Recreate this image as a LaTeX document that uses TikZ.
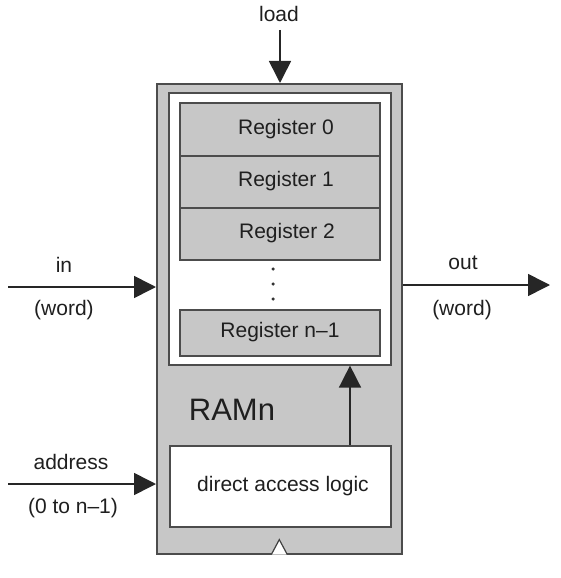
\documentclass[tikz,border=0pt]{standalone}
\usepackage{fontspec}
\setmainfont{Liberation Sans}
\usetikzlibrary{arrows.meta}
\begin{document}
\begin{tikzpicture}[x=1pt,y=-1pt,
  box/.style={draw=black!70, line width=1.6pt},
  lbl/.style={font=\fontsize{21}{25}\selectfont, inner sep=0pt, text=black!88},
  arr/.style={draw=black!85, line width=1.6pt, -{Triangle[length=22pt,width=22pt]}},
  reg/.style={box, fill=black!22, minimum width=200pt, inner sep=0pt, anchor=north west},
  dotm/.style={circle, fill=black!80, inner sep=0pt, minimum size=3.5pt}
]
\useasboundingbox (0,0) rectangle (560,578);
% outer RAM box
\node[box, fill=black!22, minimum width=245pt, minimum height=470pt, anchor=north west] (ram) at (156,83) {};
% memory area
\node[box, fill=white, minimum width=222pt, minimum height=272pt, anchor=north west] (mem) at (168,92) {};
% registers
\node[reg, minimum height=53pt] (r0) at (179,102) {};
\node[reg, minimum height=52pt] (r1) at (179,155) {};
\node[reg, minimum height=52pt] (r2) at (179,207) {};
\node[reg, minimum height=46pt] (rn) at (179,309) {};
\node[lbl] (r0t) at (286,129) {Register 0};
\node[lbl] (r1t) at (286,181) {Register 1};
\node[lbl] (r2t) at (287,233) {Register 2};
\node[lbl] (rnt) at (280,332) {Register n--1};
% dots
\node[dotm] (d1) at (273,269) {};
\node[dotm] (d2) at (273,284) {};
\node[dotm] (d3) at (273,299) {};
% RAMn label
\node[font=\fontsize{31}{36}\selectfont, inner sep=0pt, text=black!88] (name) at (232,410) {RAMn};
% direct access logic
\node[box, fill=white, minimum width=221pt, minimum height=81pt, anchor=north west] (logic) at (169,445) {};
\node[lbl] (logict) at (283,486) {direct access logic};
% clock triangle
\draw[draw=black!75, line width=1.2pt, fill=white] ([xshift=-8pt]ram.south) -- ([yshift=15pt]ram.south) -- ([xshift=8pt]ram.south);
% load
\node[lbl] (load) at (279,14) {load};
\coordinate (loadS) at (280,30);
\draw[arr] (loadS) -- (loadS |- ram.north);
% in
\node[lbl] (in) at (64,265) {in};
\node[lbl] (inw) at (64,310) {(word)};
\coordinate (inS) at (8,287);
\draw[arr] (inS) -- (inS -| ram.west);
% address
\node[lbl] (addr) at (71,462) {address};
\node[lbl] (addrr) at (73,508) {(0 to n--1)};
\coordinate (adS) at (8,484);
\draw[arr] (adS) -- (adS -| ram.west);
% out
\node[lbl] (out) at (463,263) {out};
\node[lbl] (outw) at (462,310) {(word)};
\coordinate (outE) at (550,285);
\draw[arr] (outE -| ram.east) -- (outE);
% logic to registers
\coordinate (ap) at (350,0);
\draw[arr] (logic.north -| ap) -- (mem.south -| ap);
\end{tikzpicture}
\end{document}
